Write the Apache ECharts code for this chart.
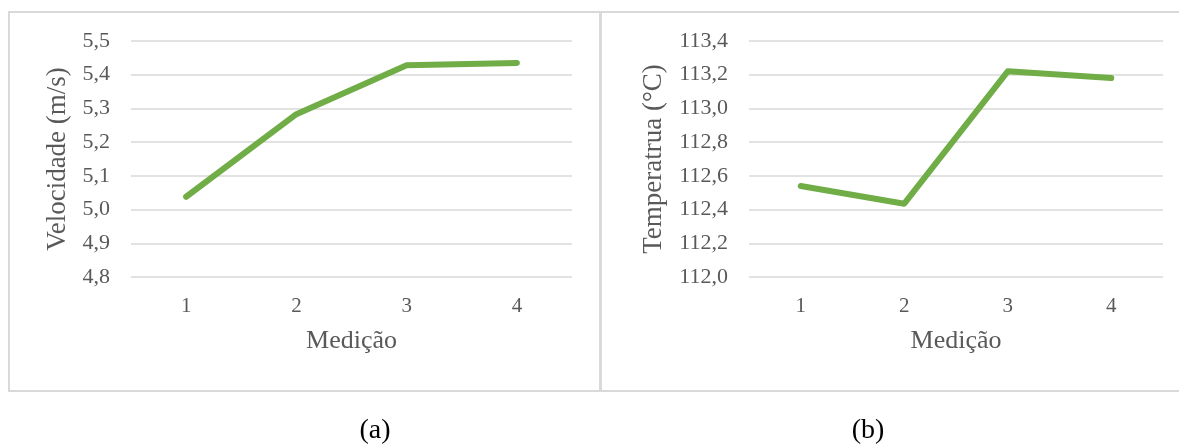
<!DOCTYPE html>
<html>
<head>
<meta charset="utf-8">
<script src="https://cdn.jsdelivr.net/npm/echarts@6/dist/echarts.min.js"></script>
<style>
  html, body { margin: 0; padding: 0; background: #fff; }
  #main { width: 1179px; height: 445px; }
</style>
</head>
<body>
<div id="main"></div>
<script>
// dados
const medicoes = ['1', '2', '3', '4'];
const velocidade = [5.038, 5.283, 5.428, 5.435];
const temperatura = [112.54, 112.435, 113.22, 113.18];

const FONT = 'Liberation Serif';
const TXT = '#595959';
const GRID = '#d9d9d9';
const VERDE = '#70AD47';

function fmt(d) {
  return function (v) { return v.toFixed(d).replace('.', ','); };
}

function xAxisCfg(idx) {
  return {
    type: 'category',
    gridIndex: idx,
    data: medicoes,
    boundaryGap: true,
    axisLine: { show: false },
    axisTick: { show: false },
    axisLabel: { color: TXT, fontFamily: FONT, fontSize: 21, margin: 19 },
    name: 'Medição',
    nameLocation: 'middle',
    nameGap: 51,
    nameTextStyle: { color: TXT, fontFamily: FONT, fontSize: 26 }
  };
}

function yAxisCfg(idx, min, max, step, nome, gap) {
  return {
    type: 'value',
    gridIndex: idx,
    min: min,
    max: max,
    interval: step,
    axisLine: { show: false },
    axisTick: { show: false },
    axisLabel: { color: TXT, fontFamily: FONT, fontSize: 22, margin: 21, formatter: fmt(1) },
    splitLine: { lineStyle: { color: GRID, width: 1.5 } },
    name: nome,
    nameLocation: 'middle',
    nameGap: gap,
    nameRotate: 90,
    nameTextStyle: { color: TXT, fontFamily: FONT, fontSize: 27 }
  };
}

const chart = echarts.init(document.getElementById('main'));
chart.setOption({
  animation: false,
  backgroundColor: '#fff',
  grid: [
    { left: 131, right: 607, top: 41, bottom: 168 },
    { left: 749, right: 16, top: 41, bottom: 168 }
  ],
  xAxis: [xAxisCfg(0), xAxisCfg(1)],
  yAxis: [
    yAxisCfg(0, 4.8, 5.5, 0.1, 'Velocidade (m/s)', 60),
    yAxisCfg(1, 112.0, 113.4, 0.2, 'Temperatrua (°C)', 82)
  ],
  graphic: [
    { type: 'rect', shape: { x: 9, y: 12, width: 591, height: 379 },
      style: { fill: null, stroke: GRID, lineWidth: 2 }, z: -1 },
    { type: 'rect', shape: { x: 601, y: 12, width: 590, height: 379 },
      style: { fill: null, stroke: GRID, lineWidth: 2 }, z: -1 },
    { type: 'text', x: 375, y: 431,
      style: { text: '(a)', fill: '#000', font: '28px "Liberation Serif"', textAlign: 'center', textVerticalAlign: 'middle' } },
    { type: 'text', x: 868, y: 431,
      style: { text: '(b)', fill: '#000', font: '28px "Liberation Serif"', textAlign: 'center', textVerticalAlign: 'middle' } }
  ],
  series: [
    {
      type: 'line', xAxisIndex: 0, yAxisIndex: 0, data: velocidade,
      showSymbol: false, lineStyle: { color: VERDE, width: 6, cap: 'round', join: 'round' }
    },
    {
      type: 'line', xAxisIndex: 1, yAxisIndex: 1, data: temperatura,
      showSymbol: false, lineStyle: { color: VERDE, width: 6, cap: 'round', join: 'round' }
    }
  ]
});
</script>
</body>
</html>
